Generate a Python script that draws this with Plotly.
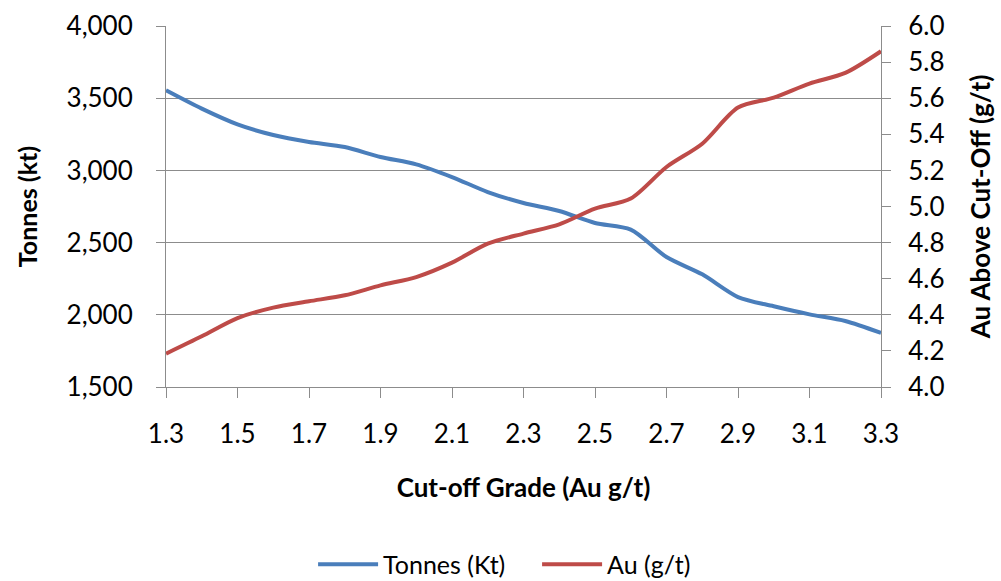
import plotly.graph_objects as go

# Cut-off grade (Au g/t)
cutoff = [1.3, 1.4, 1.5, 1.6, 1.7, 1.8, 1.9, 2.0, 2.1, 2.2, 2.3,
          2.4, 2.5, 2.6, 2.7, 2.8, 2.9, 3.0, 3.1, 3.2, 3.3]

# Tonnes above cut-off (kt)
tonnes = [3555, 3428, 3319, 3245, 3197, 3162, 3093, 3042, 2954, 2850, 2774,
          2719, 2636, 2590, 2400, 2280, 2123, 2059, 2003, 1957, 1874]

# Grade above cut-off (Au g/t)
grade = [4.185, 4.281, 4.382, 4.440, 4.475, 4.508, 4.563, 4.609, 4.689, 4.794, 4.850,
         4.901, 4.988, 5.044, 5.219, 5.348, 5.548, 5.603, 5.681, 5.740, 5.860]

x_ticks = [1.3, 1.5, 1.7, 1.9, 2.1, 2.3, 2.5, 2.7, 2.9, 3.1, 3.3]

BLUE = "#4A7EBB"
RED = "#BE4B48"
GRID = "#8C8C8C"
FONT = "Lato"

fig = go.Figure()
fig.add_trace(go.Scatter(
    x=cutoff, y=tonnes, name="Tonnes (Kt)", mode="lines",
    line=dict(color=BLUE, width=4, shape="spline", smoothing=0.8),
    yaxis="y",
))
fig.add_trace(go.Scatter(
    x=cutoff, y=grade, name="Au (g/t)", mode="lines",
    line=dict(color=RED, width=4, shape="spline", smoothing=0.8),
    yaxis="y2",
))

tick_font = dict(family=FONT, size=26, color="#000000")
title_font = dict(family=FONT, size=26, color="#000000")

fig.update_layout(
    width=1001, height=581,
    margin=dict(l=166, r=120, t=26, b=194, autoexpand=False),
    paper_bgcolor="white", plot_bgcolor="white",
    font=dict(family=FONT, color="#000000"),
    xaxis=dict(
        range=[1.3, 3.3], tickvals=x_ticks, tickformat=".1f",
        ticks="outside", ticklen=10, tickcolor=GRID, tickwidth=1,
        showline=True, linecolor=GRID, linewidth=1,
        showgrid=False, zeroline=False, tickfont=tick_font,
        ticklabelstandoff=14,
        title=dict(text="<b>Cut-off Grade (Au g/t)</b>", font=title_font, standoff=30),
    ),
    yaxis=dict(
        range=[1500, 4000], dtick=500, tickformat=",",
        ticks="outside", ticklen=9, tickcolor=GRID, tickwidth=1,
        showline=True, linecolor=GRID, linewidth=1,
        showgrid=True, gridcolor=GRID, gridwidth=1, zeroline=False,
        tickfont=tick_font, ticklabelstandoff=18,
        title=dict(text="<b>Tonnes (kt)</b>", font=dict(family=FONT, size=25, color="#000000"),
                   standoff=21),
    ),
    yaxis2=dict(
        range=[4.0, 6.0], dtick=0.2, tickformat=".1f",
        overlaying="y", side="right",
        ticks="outside", ticklen=9, tickcolor=GRID, tickwidth=1,
        showline=True, linecolor=GRID, linewidth=1,
        showgrid=False, zeroline=False,
        tickfont=tick_font, ticklabelstandoff=12,
        title=dict(text="<b>Au Above Cut-Off (g/t)</b>", font=title_font, standoff=28),
    ),
    legend=dict(
        orientation="h", x=0.519, xanchor="center", y=-0.492, yanchor="middle",
        font=dict(family=FONT, size=25, color="#000000"),
        itemwidth=60, entrywidth=149, entrywidthmode="pixels",
        bgcolor="rgba(0,0,0,0)",
    ),
    showlegend=True,
)

fig.write_html("out.html")
